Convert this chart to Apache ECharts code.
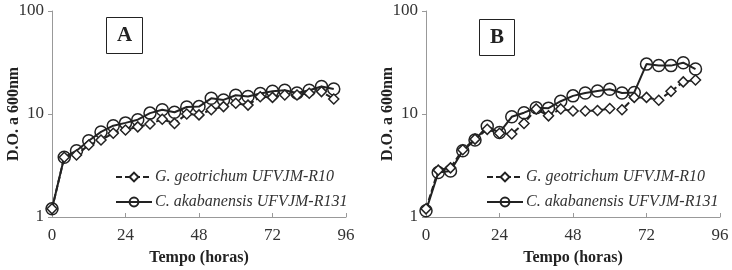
<!DOCTYPE html>
<html>
<head>
<meta charset="utf-8">
<script src="https://cdn.jsdelivr.net/npm/echarts@6/dist/echarts.min.js"></script>
<style>
  html, body { margin: 0; padding: 0; background: #fff; }
  #chart { width: 732px; height: 270px; }
</style>
</head>
<body>
<div id="chart"></div>
<script>
// tempos de coleta (horas)
const hoursA = [0, 4, 8, 12, 16, 20, 24, 28, 32, 36, 40, 44, 48, 52, 56, 60, 64, 68, 72, 76, 80, 84, 88, 92]
const hoursB = [0, 4, 8, 12, 16, 20, 24, 28, 32, 36, 40, 44, 48, 52, 56, 60, 64, 68, 72, 76, 80, 84, 88]

// painel A
const geoA = [1.2, 3.8, 4.0, 5.0, 5.6, 6.5, 7.0, 7.5, 8.0, 8.9, 8.1, 10.0, 9.8, 11.0, 11.8, 12.7, 12.2, 14.7, 14.5, 15.3, 15.3, 15.9, 16.5, 14.0]
const akaA = [1.2, 3.8, 4.4, 5.5, 6.7, 7.7, 8.2, 8.8, 10.2, 11.0, 10.4, 11.7, 11.8, 14.2, 13.7, 15.2, 14.8, 15.8, 16.6, 17.0, 16.0, 17.0, 18.5, 17.5]

// painel B
const geoB = [1.2, 2.85, 3.0, 4.5, 5.7, 7.1, 6.5, 6.4, 8.1, 11.2, 9.6, 11.2, 10.7, 10.7, 10.8, 11.3, 11.0, 14.5, 14.5, 13.6, 16.6, 20.5, 21.4]
const akaB = [1.15, 2.7, 2.8, 4.4, 5.6, 7.6, 6.6, 9.4, 10.3, 11.5, 11.4, 13.3, 15.0, 16.0, 16.7, 17.4, 16.0, 16.2, 30.5, 29.6, 29.5, 31.5, 27.3]

const nameGeo = 'G. geotrichum UFVJM-R10'
const nameAka = 'C. akabanensis UFVJM-R131'
const panels = ['A', 'B']

const serif = 'Liberation Serif'
const ink = '#222'

const zip = (xs, ys) => xs.map((x, i) => [x, ys[i]])

function xAxisFor(i) {
  return {
    type: 'value',
    gridIndex: i,
    min: 0,
    max: 96,
    interval: 24,
    name: 'Tempo (horas)',
    nameLocation: 'middle',
    nameGap: 33,
    nameMoveOverlap: false,
    nameTextStyle: { fontFamily: serif, fontSize: 16, fontWeight: 'bold', color: ink },
    axisLine: { lineStyle: { color: '#999' } },
    axisTick: { inside: true, length: 4, lineStyle: { color: '#999' } },
    axisLabel: { fontFamily: serif, fontSize: 17, color: '#333', margin: 10 },
    splitLine: { show: false },
  }
}

function yAxisFor(i) {
  return {
    type: 'log',
    logBase: 10,
    gridIndex: i,
    min: 1,
    max: 100,
    name: 'D.O. a 600nm',
    nameLocation: 'middle',
    nameGap: 30,
    nameMoveOverlap: false,
    nameTextStyle: { fontFamily: serif, fontSize: 16, fontWeight: 'bold', color: ink },
    axisLine: { show: true, lineStyle: { color: '#999' } },
    axisTick: { show: true, length: 4, lineStyle: { color: '#999' } },
    axisLabel: { fontFamily: serif, fontSize: 17, color: '#333', margin: 8 },
    splitLine: { show: false },
    minorTick: { show: false },
  }
}

function geoSeries(i, data) {
  return {
    name: nameGeo,
    type: 'line',
    xAxisIndex: i,
    yAxisIndex: i,
    data,
    symbol: 'diamond',
    symbolSize: 10,
    lineStyle: { color: ink, width: 2, type: [6, 3] },
    itemStyle: { color: '#fff', borderColor: ink, borderWidth: 1.5 },
    z: 3,
  }
}

function akaSeries(i, data) {
  return {
    name: nameAka,
    type: 'line',
    xAxisIndex: i,
    yAxisIndex: i,
    data,
    symbol: 'circle',
    symbolSize: 12,
    lineStyle: { color: ink, width: 2 },
    itemStyle: { color: 'rgba(255,255,255,0)', borderColor: ink, borderWidth: 1.5 },
    z: 2,
  }
}

function legendFor(left) {
  return {
    orient: 'vertical',
    left,
    top: 164,
    itemWidth: 36,
    itemHeight: 11,
    itemGap: 9,
    data: [nameGeo, nameAka],
    textStyle: { fontFamily: serif, fontSize: 16, fontStyle: 'italic', color: '#333', padding: [0, 0, 0, -2] },
    selectedMode: false,
  }
}

const chart = echarts.init(document.getElementById('chart'), null, { renderer: 'canvas' })

chart.setOption({
  animation: false,
  backgroundColor: '#fff',
  title: panels.map((p, i) => ({
    text: p,
    left: i === 0 ? 106 : 479,
    top: i === 0 ? 17 : 19,
    padding: [8, 11, 8, 11],
    borderWidth: 1,
    borderColor: ink,
    textStyle: { fontFamily: serif, fontSize: 21, fontWeight: 'bold', color: ink },
  })),
  legend: [legendFor(110), legendFor(481)],
  grid: [
    { left: 52, right: 386, top: 11, bottom: 53, outerBoundsMode: 'none' },
    { left: 426, right: 12, top: 11, bottom: 53, outerBoundsMode: 'none' },
  ],
  xAxis: [xAxisFor(0), xAxisFor(1)],
  yAxis: [yAxisFor(0), yAxisFor(1)],
  series: [
    geoSeries(0, zip(hoursA, geoA)),
    akaSeries(0, zip(hoursA, akaA)),
    geoSeries(1, zip(hoursB, geoB)),
    akaSeries(1, zip(hoursB, akaB)),
  ],
})
</script>
</body>
</html>
